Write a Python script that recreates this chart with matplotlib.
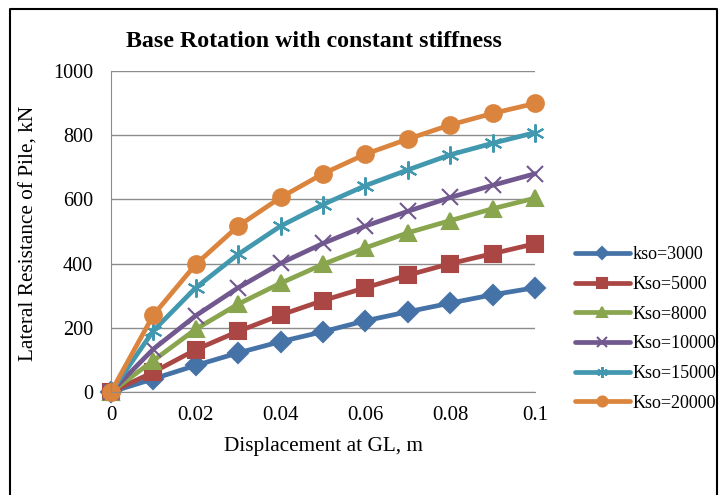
import numpy as np
import matplotlib.pyplot as plt
from matplotlib.lines import Line2D

plt.rcParams['font.family'] = ['Liberation Serif', 'DejaVu Serif']

disp = [0, 0.01, 0.02, 0.03, 0.04, 0.05, 0.06, 0.07, 0.08, 0.09, 0.1]

kso_3000 = [0, 41, 83, 122, 157, 188, 222, 250, 277, 303, 325]
kso_5000 = [0, 62, 132, 189, 240, 285, 325, 364, 400, 431, 462]
kso_8000 = [0, 98, 196, 274, 339, 398, 449, 496, 534, 571, 604]
kso_10000 = [0, 134, 238, 325, 401, 463, 517, 563, 606, 644, 680]
kso_15000 = [0, 191, 325, 429, 517, 584, 643, 692, 739, 775, 808]
kso_20000 = [0, 240, 398, 517, 606, 680, 741, 788, 832, 868, 899]

labels = ["kso=3000", "Kso=5000", "Kso=8000", "Kso=10000", "Kso=15000", "Kso=20000"]
series = [kso_3000, kso_5000, kso_8000, kso_10000, kso_15000, kso_20000]
colors = ["#4572A7", "#AA4643", "#89A54E", "#71588F", "#4198AF", "#DB843D"]
markers = ["D", "s", "^", "x", (6, 2, 0), "o"]
msizes = [10, 11, 12, 11, 13, 12]

fig = plt.figure(figsize=(7.24, 4.95), dpi=100)
ax = fig.add_axes([0.1533, 0.208, 0.739 - 0.1533, 0.8566 - 0.208])

for y, lab, c, m, ms in zip(series, labels, colors, markers, msizes):
    ax.plot(disp, y, color=c, lw=3.4, marker=m, markersize=ms,
            markeredgecolor=c, markeredgewidth=1.5, label=lab,
            solid_capstyle='round', clip_on=False)

ax.set_xlim(0, 0.1)
ax.set_ylim(0, 1000)
ax.set_xticks([0, 0.02, 0.04, 0.06, 0.08, 0.1])
ax.set_xticklabels(["0", "0.02", "0.04", "0.06", "0.08", "0.1"])
ax.set_yticks([0, 200, 400, 600, 800, 1000])
ax.yaxis.grid(True, color="#8c8c8c", lw=1)
ax.set_axisbelow(True)
for s in ["top", "right"]:
    ax.spines[s].set_visible(False)
for s in ["left", "bottom"]:
    ax.spines[s].set_color("#8c8c8c")
ax.tick_params(axis="y", length=0, labelsize=14.5, pad=13)
ax.tick_params(axis="x", length=0, labelsize=15, pad=10)

ax.set_title("Base Rotation with constant stiffness", fontsize=17.2,
             fontweight="bold", pad=17, x=0.479)
ax.set_xlabel("Displacement at GL, m", fontsize=15.3, labelpad=9)
ax.set_ylabel("Lateral Resistance of Pile, kN", fontsize=15.3)
ax.yaxis.set_label_coords(-0.17, 0.495)

leg = fig.legend(loc="upper left", bbox_to_anchor=(0.784, 0.517), frameon=False,
                 fontsize=13, handlelength=3.05, handletextpad=0.15,
                 labelspacing=0.7, markerscale=0.6, borderaxespad=0)

# figure border (left, top, right)
fig.add_artist(Line2D([0.0145, 0.0145, 0.9903, 0.9903], [0.0, 0.982, 0.982, 0.0],
                      transform=fig.transFigure, color="black", lw=1.5))

fig.savefig("out.png", dpi=100)
